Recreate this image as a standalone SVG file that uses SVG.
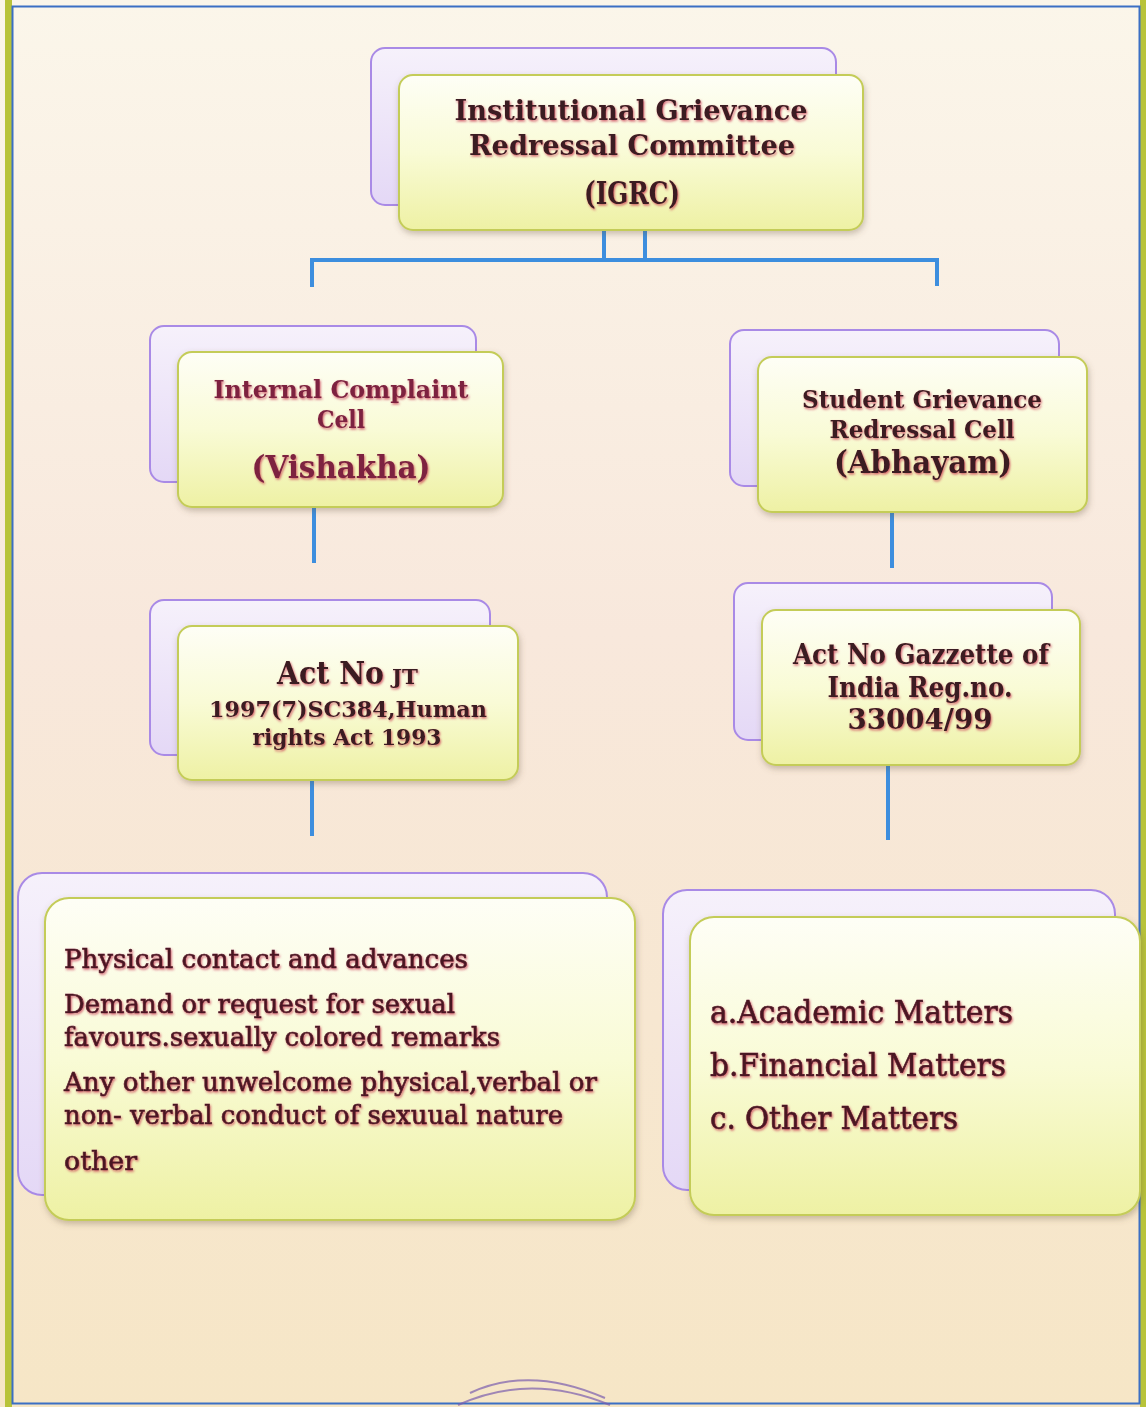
<svg xmlns="http://www.w3.org/2000/svg" width="1146" height="1407" viewBox="0 0 1146 1407">
  <defs>
    <linearGradient id="bg" x1="0" y1="0" x2="0" y2="1">
      <stop offset="0" stop-color="#fbf6ea"/>
      <stop offset="0.45" stop-color="#f8e8dc"/>
      <stop offset="1" stop-color="#f6e6c6"/>
    </linearGradient>
    <linearGradient id="front" x1="0" y1="0" x2="0" y2="1">
      <stop offset="0" stop-color="#fefef6"/>
      <stop offset="0.5" stop-color="#f9fbd6"/>
      <stop offset="1" stop-color="#eef1a4"/>
    </linearGradient>
    <linearGradient id="back" x1="0" y1="0" x2="0" y2="1">
      <stop offset="0" stop-color="#f6f1fb"/>
      <stop offset="1" stop-color="#e4d8f6"/>
    </linearGradient>
    <filter id="boxShadow" x="-10%" y="-10%" width="120%" height="130%">
      <feDropShadow dx="1" dy="3" stdDeviation="3" flood-color="#6b5a40" flood-opacity="0.35"/>
    </filter>
    <filter id="txtShadow" x="-5%" y="-20%" width="110%" height="150%">
      <feDropShadow dx="1" dy="1.5" stdDeviation="1" flood-color="#c8304e" flood-opacity="0.75"/>
    </filter>
  </defs>
  <style>
    .backbox { fill: url(#back); stroke: #a98ae6; stroke-width: 2; }
    .frontbox { fill: url(#front); stroke: #c4cc58; stroke-width: 2; filter: url(#boxShadow); }
    .conn { stroke: #3d8ede; stroke-width: 4; fill: none; }
    .t { font-family: "DejaVu Serif", "Liberation Serif", serif; font-weight: bold; text-anchor: middle; filter: url(#txtShadow); }
    .start { text-anchor: start; }
    .dark { fill: #3a1a20; }
    .red { fill: #7d2440; }
    .body { font-family: "DejaVu Serif", "Liberation Serif", serif; font-weight: normal; fill: #4a1624; stroke: #4a1624; stroke-width: 0.6; filter: url(#txtShadow); }
  </style>

  <!-- page background and border -->
  <rect x="0" y="0" width="1146" height="1407" fill="url(#bg)"/>
  <rect x="5" y="0" width="7" height="1407" fill="#b8c33a"/>
  <rect x="1140" y="0" width="6" height="1407" fill="#b8c33a"/>
  <rect x="12.5" y="6.5" width="1127" height="1397" fill="none" stroke="#3b6fc4" stroke-width="2"/>

  <!-- stamp fragment -->
  <g fill="none" stroke="#7a5cae" stroke-opacity="0.7" stroke-width="2">
    <path d="M 470 1393 Q 530 1365 605 1398"/>
    <path d="M 458 1405 Q 530 1372 610 1405"/>
  </g>

  <!-- connectors -->
  <g id="connectors">
    <line class="conn" x1="604" y1="231" x2="604" y2="260"/>
    <line class="conn" x1="645" y1="231" x2="645" y2="260"/>
    <polyline class="conn" points="312,287 312,260 937,260 937,286"/>
    <line class="conn" x1="314" y1="508" x2="314" y2="563"/>
    <line class="conn" x1="892" y1="513" x2="892" y2="568"/>
    <line class="conn" x1="312" y1="781" x2="312" y2="836"/>
    <line class="conn" x1="888" y1="766" x2="888" y2="840"/>
  </g>

  <!-- IGRC -->
  <g id="igrc">
    <rect class="backbox" x="371" y="48" width="465" height="157" rx="14"/>
    <rect class="frontbox" x="399" y="75" width="464" height="155" rx="14"/>
    <text class="t dark" x="631" y="120" font-size="28" textLength="353" lengthAdjust="spacingAndGlyphs">Institutional Grievance</text>
    <text class="t dark" x="632" y="155" font-size="28" textLength="326" lengthAdjust="spacingAndGlyphs">Redressal Committee</text>
    <text class="t dark" x="632" y="204" font-size="31" textLength="96" lengthAdjust="spacingAndGlyphs">(IGRC)</text>
  </g>

  <!-- Internal Complaint Cell -->
  <g id="icc">
    <rect class="backbox" x="150" y="326" width="326" height="156" rx="14"/>
    <rect class="frontbox" x="178" y="352" width="325" height="155" rx="14"/>
    <text class="t red" x="341" y="398" font-size="24" textLength="255" lengthAdjust="spacingAndGlyphs">Internal  Complaint</text>
    <text class="t red" x="341" y="428" font-size="24" textLength="48" lengthAdjust="spacingAndGlyphs">Cell</text>
    <text class="t red" x="341" y="478" font-size="32" textLength="179" lengthAdjust="spacingAndGlyphs">(Vishakha)</text>
  </g>

  <!-- Student Grievance Redressal Cell -->
  <g id="sgrc">
    <rect class="backbox" x="730" y="330" width="329" height="156" rx="14"/>
    <rect class="frontbox" x="758" y="357" width="329" height="155" rx="14"/>
    <text class="t dark" x="922" y="408" font-size="24" textLength="240" lengthAdjust="spacingAndGlyphs">Student Grievance</text>
    <text class="t dark" x="922" y="438" font-size="24" textLength="185" lengthAdjust="spacingAndGlyphs">Redressal Cell</text>
    <text class="t dark" x="923" y="473" font-size="32" textLength="178" lengthAdjust="spacingAndGlyphs">(Abhayam)</text>
  </g>

  <!-- Act No JT -->
  <g id="act-left">
    <rect class="backbox" x="150" y="600" width="340" height="155" rx="14"/>
    <rect class="frontbox" x="178" y="626" width="340" height="154" rx="14"/>
    <text class="t dark start" x="277" y="684" font-size="31" textLength="107" lengthAdjust="spacingAndGlyphs">Act No</text>
    <text class="t dark start" x="392" y="684" font-size="21" textLength="26" lengthAdjust="spacingAndGlyphs">JT</text>
    <text class="t dark" x="348" y="717" font-size="22" textLength="278" lengthAdjust="spacingAndGlyphs">1997(7)SC384,Human</text>
    <text class="t dark" x="347" y="745" font-size="22" textLength="189" lengthAdjust="spacingAndGlyphs">rights Act 1993</text>
  </g>

  <!-- Act No Gazzette -->
  <g id="act-right">
    <rect class="backbox" x="734" y="583" width="318" height="157" rx="14"/>
    <rect class="frontbox" x="762" y="610" width="318" height="155" rx="14"/>
    <text class="t dark" x="921" y="664" font-size="27" textLength="256" lengthAdjust="spacingAndGlyphs">Act No Gazzette of</text>
    <text class="t dark" x="920" y="697" font-size="27" textLength="185" lengthAdjust="spacingAndGlyphs">India Reg.no.</text>
    <text class="t dark" x="920" y="729" font-size="27" textLength="145" lengthAdjust="spacingAndGlyphs">33004/99</text>
  </g>

  <!-- Vishakha matters -->
  <g id="list-left">
    <rect class="backbox" x="18" y="873" width="589" height="322" rx="24"/>
    <rect class="frontbox" x="45" y="898" width="590" height="322" rx="24"/>
    <text class="body" x="64" y="968" font-size="26" textLength="404" lengthAdjust="spacingAndGlyphs">Physical  contact and advances</text>
    <text class="body" x="64" y="1013" font-size="26" textLength="391" lengthAdjust="spacingAndGlyphs">Demand or request for sexual</text>
    <text class="body" x="64" y="1046" font-size="26" textLength="436" lengthAdjust="spacingAndGlyphs">favours.sexually colored remarks</text>
    <text class="body" x="64" y="1091" font-size="26" textLength="533" lengthAdjust="spacingAndGlyphs">Any other unwelcome physical,verbal or</text>
    <text class="body" x="64" y="1124" font-size="26" textLength="499" lengthAdjust="spacingAndGlyphs">non- verbal conduct of sexuual nature</text>
    <text class="body" x="64" y="1170" font-size="26" textLength="73" lengthAdjust="spacingAndGlyphs">other</text>
  </g>

  <!-- Abhayam matters -->
  <g id="list-right">
    <rect class="backbox" x="663" y="890" width="452" height="300" rx="24"/>
    <rect class="frontbox" x="690" y="917" width="450" height="298" rx="24"/>
    <text class="body" x="710" y="1023" font-size="31" textLength="303" lengthAdjust="spacingAndGlyphs">a.Academic Matters</text>
    <text class="body" x="710" y="1076" font-size="31" textLength="296" lengthAdjust="spacingAndGlyphs">b.Financial Matters</text>
    <text class="body" x="710" y="1129" font-size="31" textLength="248" lengthAdjust="spacingAndGlyphs">c. Other Matters</text>
  </g>
</svg>
